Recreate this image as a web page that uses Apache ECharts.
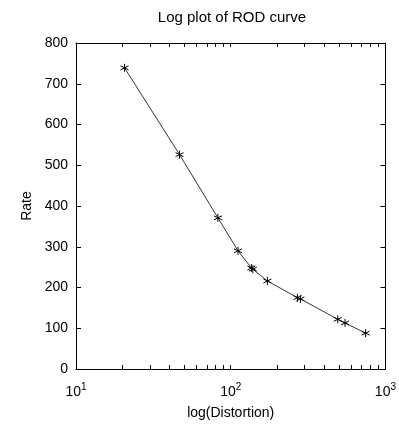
<!DOCTYPE html>
<html><head><meta charset="utf-8">
<script src="https://cdn.jsdelivr.net/npm/echarts@6/dist/echarts.min.js"></script>
<style>html,body{margin:0;padding:0;background:#fff}#c{width:399px;height:425px}</style>
</head><body><div id="c"></div>
<script>
const distortion = [20.6, 46.7, 82.6, 111.5, 136, 139, 172.6, 270, 282, 492, 548, 745];
const rate = [739, 526, 371, 290, 248, 245, 216, 175, 172, 122, 113, 88];
const xTickValues = [10,20,30,40,50,60,70,80,90,100,200,300,400,500,600,700,800,900,1000];
const xLabelValues = [10, 100, 1000];
const yTicks = [0,100,200,300,400,500,600,700,800];

const FONT = 'Liberation Sans';
const data = distortion.map((d, i) => [d, rate[i]]);
const star = 'path://M0,-5L0,5M-4.33,-2.5L4.33,2.5M-4.33,2.5L4.33,-2.5';

const chart = echarts.init(document.getElementById('c'), null, {renderer: 'canvas'});
const xCommon = {
  type: 'log', logBase: 10, min: 10, max: 1000,
  axisLine: {show: true, onZero: false, lineStyle: {color: '#000', width: 1}},
  splitLine: {show: false},
  axisTick: {show: true, inside: true, length: 4, lineStyle: {color: '#000'}, customValues: xTickValues},
};
const yCommon = {
  type: 'value', min: 0, max: 800, interval: 100,
  axisLine: {show: true, lineStyle: {color: '#000', width: 1}},
  splitLine: {show: false},
  axisTick: {show: true, inside: true, length: 5, lineStyle: {color: '#000'}},
};
chart.setOption({
  animation: false,
  textStyle: {fontFamily: FONT},
  grid: {left: 76, right: 11, top: 43, bottom: 56, containLabel: false},
  graphic: [{type: 'text', x: 232, y: 10,
    style: {text: 'Log plot of ROD curve', font: '15px ' + FONT, fill: '#000', textAlign: 'center'}}],
  xAxis: [
    Object.assign({}, xCommon, {
      position: 'bottom',
      name: 'log(Distortion)', nameLocation: 'middle', nameGap: 37,
      nameTextStyle: {fontSize: 14, color: '#000', fontFamily: FONT},
      axisLabel: {show: true, margin: 13, customValues: xLabelValues, color: '#000',
        formatter: v => '{b|10}{s|' + Math.round(Math.log10(v)) + '}',
        rich: {b: {fontSize: 14, fontFamily: FONT, color: '#000'},
               s: {fontSize: 10, fontFamily: FONT, color: '#000', padding: [0, 0, 10, 0]}}}
    }),
    Object.assign({}, xCommon, {position: 'top', axisLabel: {show: false}})
  ],
  yAxis: [
    Object.assign({}, yCommon, {
      position: 'left',
      name: 'Rate', nameLocation: 'middle', nameGap: 40, nameRotate: 90,
      nameTextStyle: {fontSize: 14, color: '#000', fontFamily: FONT},
      axisLabel: {show: true, fontSize: 14, color: '#000', margin: 8, fontFamily: FONT}
    }),
    Object.assign({}, yCommon, {position: 'right', axisLabel: {show: false}})
  ],
  series: [{
    type: 'line', data: data, xAxisIndex: 0, yAxisIndex: 0,
    lineStyle: {color: '#000', width: 0.8},
    symbol: star, symbolSize: 8, showSymbol: true,
    itemStyle: {color: 'none', borderColor: '#000', borderWidth: 1}
  }]
});
</script></body></html>
